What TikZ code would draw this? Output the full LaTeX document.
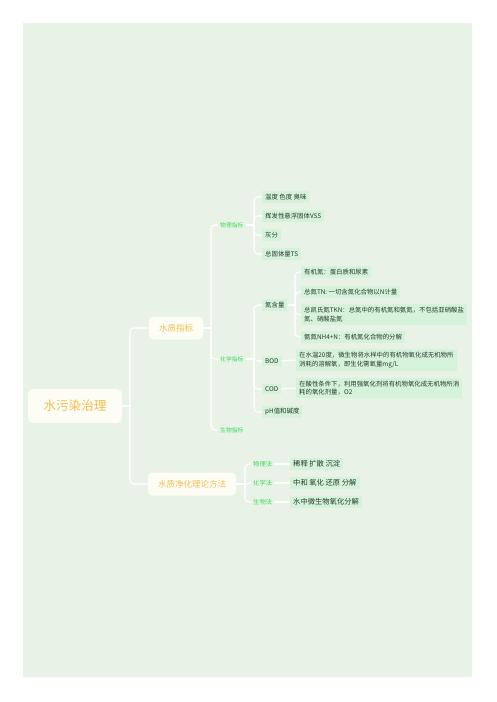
\documentclass[tikz,border=0pt]{standalone}
\usepackage{fontspec}
\setmainfont{Noto Sans CJK SC}
\definecolor{bgmint}{HTML}{E9F2E7}
\definecolor{boxwhite}{HTML}{FDFDF6}
\definecolor{rootorange}{HTML}{F2BE4E}
\definecolor{labelgreen}{HTML}{3CDB5E}
\definecolor{leafmint}{HTML}{D5F3DA}
\definecolor{leafdark}{HTML}{2A382F}
\begin{document}
\begin{tikzpicture}[x=1pt,y=-1pt,
    branch/.style={draw=white,line width=1.1pt,rounded corners=4pt},
    rootbox/.style={fill=boxwhite,rounded corners=5pt,text=rootorange,font=\fontsize{12.6}{14}\selectfont,minimum width=94pt,minimum height=34pt,inner sep=0pt},
    mainbox/.style={fill=boxwhite,rounded corners=5pt,text=rootorange,font=\fontsize{8.5}{10}\selectfont,minimum height=23pt,inner xsep=10pt},
    sublabel/.style={text=labelgreen,font=\fontsize{5.8}{7}\selectfont,inner sep=2pt,anchor=west},
    leafbox/.style={fill=leafmint,text=leafdark,font=\fontsize{6.4}{8.2}\selectfont,inner xsep=3pt,inner ysep=3pt,anchor=west,align=left},
    bigleaf/.style={leafbox,font=\fontsize{7.3}{9}\selectfont}]
  \useasboundingbox (0,0) rectangle (497,702);
  \fill[bgmint] (23,23) rectangle (472,677);

  % root and main branches
  \node[rootbox] (root) at (75,406) {水污染治理};
  \node[mainbox] (water) at (176,328) {水质指标};
  \node[mainbox] (purify) at (192,484) {水质净化理论方法};
  \coordinate (jroot) at (130,406);
  \draw[branch] (root.east) -- (jroot);
  \draw[branch] (jroot) |- (water.west);
  \draw[branch] (jroot) |- (purify.west);

  % water quality
  \node[sublabel] (phys) at (218,225) {物理指标};
  \node[sublabel] (chem) at (218,359) {化学指标};
  \node[sublabel] (bio) at (218,430) {生物指标};
  \coordinate (jwater) at (211,328);
  \draw[branch] (water.east) -- (jwater);
  \draw[branch] (jwater) |- (phys.west);
  \draw[branch] (jwater) |- (chem.west);
  \draw[branch] (jwater) |- (bio.west);

  % physical
  \node[leafbox] (temp) at (262,197) {温度 色度 臭味};
  \node[leafbox] (vss) at (262,216) {挥发性悬浮固体VSS};
  \node[leafbox] (ash) at (262,235) {灰分};
  \node[leafbox] (ts) at (262,254) {总固体量TS};
  \coordinate (jphys) at (254,225);
  \draw[branch] (phys.east) -- (jphys);
  \foreach \n in {temp,vss,ash,ts}
    \draw[branch] (jphys) |- (\n.west);

  % chemical
  \node[leafbox] (nit) at (262,305) {氮含量};
  \node[leafbox] (bod) at (262,361) {BOD};
  \node[leafbox] (cod) at (262,389) {COD};
  \node[leafbox] (ph) at (262,412) {pH值和碱度};
  \coordinate (jchem) at (254,359);
  \draw[branch] (chem.east) -- (jchem);
  \foreach \n in {nit,bod,cod,ph}
    \draw[branch] (jchem) |- (\n.west);

  % nitrogen
  \node[leafbox] (orgn) at (301,272) {有机氮：蛋白质和尿素};
  \node[leafbox] (tn) at (301,292) {总氮TN: 一切含氮化合物以N计量};
  \node[leafbox] (tkn) at (301,314.5) {总凯氏氮TKN：总氮中的有机氮和氨氮，不包括亚硝酸盐\\氮、硝酸盐氮};
  \node[leafbox] (nh4) at (301,337) {氨氮NH4+N：有机氮化合物的分解};
  \coordinate (jnit) at (295,305);
  \draw[branch] (nit.east) -- (jnit);
  \foreach \n in {orgn,tn,tkn,nh4}
    \draw[branch] (jnit) |- (\n.west);

  \node[leafbox] (bodtxt) at (296,360) {在水温20度，微生物将水样中的有机物氧化成无机物所\\消耗的溶解氧，即生化需氧量mg/L};
  \node[leafbox] (codtxt) at (296,388) {在酸性条件下，利用强氧化剂将有机物氧化成无机物所消\\耗的氧化剂量，O2};
  \draw[branch] (bod.east) -- (bodtxt.west);
  \draw[branch] (cod.east) -- (codtxt.west);

  % purification methods
  \node[sublabel,font=\fontsize{6.3}{7}\selectfont] (mphys) at (251,464) {物理法};
  \node[sublabel,font=\fontsize{6.3}{7}\selectfont] (mchem) at (251,483) {化学法};
  \node[sublabel,font=\fontsize{6.3}{7}\selectfont] (mbio) at (251,502) {生物法};
  \coordinate (jpur) at (245,484);
  \draw[branch] (purify.east) -- (jpur);
  \foreach \n in {mphys,mchem,mbio}
    \draw[branch] (jpur) |- (\n.west);

  \node[bigleaf] (dilute) at (290,464) {稀释 扩散 沉淀};
  \node[bigleaf] (redox) at (290,483) {中和 氧化 还原 分解};
  \node[bigleaf] (micro) at (290,502) {水中微生物氧化分解};
  \draw[branch] (mphys.east) -- (dilute.west);
  \draw[branch] (mchem.east) -- (redox.west);
  \draw[branch] (mbio.east) -- (micro.west);
\end{tikzpicture}
\end{document}
